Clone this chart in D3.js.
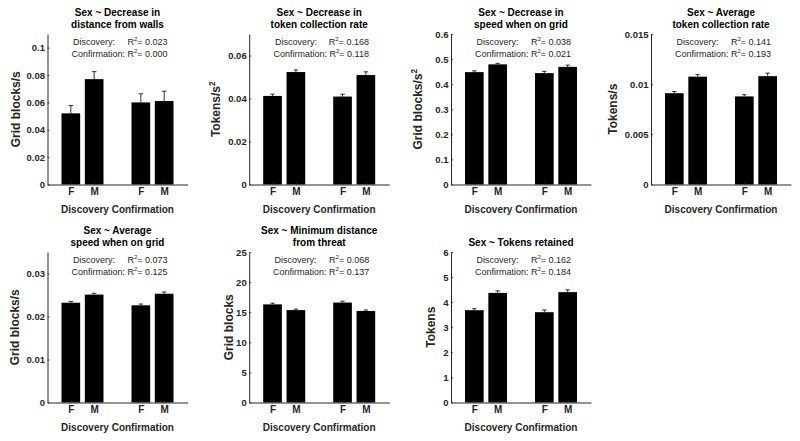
<!DOCTYPE html>
<html><head><meta charset="utf-8">
<script src="https://cdn.jsdelivr.net/npm/d3@7"></script>
<style>
body{margin:0;background:#fff}
svg{display:block}
text{font-family:"Liberation Sans",Arial,Helvetica,sans-serif}
</style>
</head><body>
<svg id="c" width="800" height="441"></svg>
<script>
// ---------- data ----------
const barLabels = ["F", "M", "F", "M"];
const barPositions = [1, 2, 4, 5];
const xLabel = "Discovery Confirmation";
const titles = [
  ["Sex ~ Decrease in", "distance from walls"],
  ["Sex ~ Decrease in", "token collection rate"],
  ["Sex ~ Decrease in", "speed when on grid"],
  ["Sex ~ Average", "token collection rate"],
  ["Sex ~ Average", "speed when on grid"],
  ["Sex ~ Minimum distance", "from threat"],
  ["Sex ~ Tokens retained"]
];
const yLabelText = ["Grid blocks/s", "Tokens/s", "Grid blocks/s", "Tokens/s", "Grid blocks/s", "Grid blocks", "Tokens"];
const yLabelSup = ["", "2", "2", "", "", "", ""];
const yMax = [0.11, 0.07, 0.6, 0.015, 0.035, 25, 6];
const yTicks = [
  [0, 0.02, 0.04, 0.06, 0.08, 0.1],
  [0, 0.02, 0.04, 0.06],
  [0, 0.1, 0.2, 0.3, 0.4, 0.5, 0.6],
  [0, 0.005, 0.01, 0.015],
  [0, 0.01, 0.02, 0.03],
  [0, 5, 10, 15, 20, 25],
  [0, 1, 2, 3, 4, 5, 6]
];
const yTickLabels = [
  ["0", "0.02", "0.04", "0.06", "0.08", "0.1"],
  ["0", "0.02", "0.04", "0.06"],
  ["0", "0.1", "0.2", "0.3", "0.4", "0.5", "0.6"],
  ["0", "0.005", "0.01", "0.015"],
  ["0", "0.01", "0.02", "0.03"],
  ["0", "5", "10", "15", "20", "25"],
  ["0", "1", "2", "3", "4", "5", "6"]
];
// means: [Discovery F, Discovery M, Confirmation F, Confirmation M]
const means = [
  [0.052, 0.077, 0.060, 0.061],
  [0.0412, 0.0523, 0.0409, 0.0509],
  [0.448, 0.479, 0.444, 0.469],
  [0.0091, 0.01075, 0.00878, 0.0108],
  [0.0232, 0.0251, 0.0226, 0.0253],
  [16.3, 15.35, 16.6, 15.2],
  [3.68, 4.37, 3.60, 4.40]
];
const errors = [
  [0.0057, 0.0055, 0.0063, 0.0072],
  [0.0008, 0.0010, 0.0011, 0.0015],
  [0.005, 0.004, 0.007, 0.007],
  [0.00017, 0.0002, 0.00017, 0.0003],
  [0.0003, 0.0003, 0.0003, 0.0004],
  [0.2, 0.17, 0.22, 0.17],
  [0.06, 0.08, 0.09, 0.09]
];
const r2Discovery = ["0.023", "0.168", "0.038", "0.141", "0.073", "0.068", "0.162"];
const r2Confirmation = ["0.000", "0.118", "0.021", "0.193", "0.125", "0.137", "0.184"];

// ---------- layout ----------
const colX = [47.5, 249.2, 451, 651];
const rowBottom = [184.5, 402.5];
const plotW = 140, plotH = 150.5;
const yLabelOffset = [32, 33.5, 33.5, 38, 32.5, 21, 20];
const axisColor = "#262626";

const svg = d3.select("#c");

function supText(sel, pre, sup, post, fs) {
  sel.append("tspan").text(pre);
  if (sup) {
    sel.append("tspan").attr("font-size", fs * 0.68).attr("dy", -fs * 0.4).text(sup);
    if (post) sel.append("tspan").attr("dy", fs * 0.4).text(post);
  } else if (post) {
    sel.append("tspan").text(post);
  }
}

titles.forEach((t, i) => {
  const col = i % 4, row = Math.floor(i / 4);
  const x0 = colX[col], yb = rowBottom[row];
  const x = d3.scaleLinear().domain([0, 6]).range([x0, x0 + plotW]);
  const y = d3.scaleLinear().domain([0, yMax[i]]).range([yb, yb - plotH]);
  const g = svg.append("g");
  const bw = x(0.8) - x(0);

  // bars
  g.selectAll("rect.bar").data(means[i]).enter().append("rect")
    .attr("x", (d, j) => x(barPositions[j]) - bw / 2)
    .attr("width", bw)
    .attr("y", d => y(d))
    .attr("height", d => yb - y(d))
    .attr("fill", "#000");

  // error bars (upper only)
  const eb = g.selectAll("g.eb").data(means[i]).enter().append("g");
  eb.append("line")
    .attr("x1", (d, j) => x(barPositions[j])).attr("x2", (d, j) => x(barPositions[j]))
    .attr("y1", d => y(d)).attr("y2", (d, j) => y(d + errors[i][j]))
    .attr("stroke", "#000").attr("stroke-width", 0.8);
  eb.append("line")
    .attr("x1", (d, j) => x(barPositions[j]) - 2.2).attr("x2", (d, j) => x(barPositions[j]) + 2.2)
    .attr("y1", (d, j) => y(d + errors[i][j])).attr("y2", (d, j) => y(d + errors[i][j]))
    .attr("stroke", "#000").attr("stroke-width", 0.8);

  // y axis
  const ya = g.append("g").attr("transform", `translate(${x0},0)`)
    .call(d3.axisLeft(y).tickValues(yTicks[i])
      .tickFormat((d, k) => yTickLabels[i][k])
      .tickSizeInner(-2).tickSizeOuter(0).tickPadding(2.5));
  // x axis
  const xa = g.append("g").attr("transform", `translate(0,${yb})`)
    .call(d3.axisBottom(x).tickValues(barPositions)
      .tickFormat((d, k) => barLabels[k])
      .tickSizeInner(-2).tickSizeOuter(0).tickPadding(3.5));
  [ya, xa].forEach(a => {
    a.select(".domain").attr("stroke", axisColor).attr("stroke-width", 1);
    a.selectAll(".tick line").attr("stroke", axisColor).attr("stroke-width", 0.8);
    a.selectAll(".tick text").attr("fill", axisColor)
      .attr("font-family", '"Liberation Sans",Arial,Helvetica,sans-serif')
      .attr("font-weight", "bold");
  });
  ya.selectAll(".tick text").attr("font-size", 9.5);
  xa.selectAll(".tick text").attr("font-size", 10);

  // x label
  g.append("text").attr("x", x0 + plotW / 2).attr("y", yb + 28)
    .attr("text-anchor", "middle").attr("font-size", 10).attr("font-weight", "bold")
    .attr("fill", axisColor).text(xLabel);

  // y label
  const ylx = x0 - yLabelOffset[i] + 4.3, yly = yb - plotH / 2;
  const yl = g.append("text").attr("transform", `translate(${ylx},${yly}) rotate(-90)`)
    .attr("text-anchor", "middle").attr("font-size", 12).attr("font-weight", "bold")
    .attr("fill", axisColor);
  supText(yl, yLabelText[i], yLabelSup[i], "", 12);

  // title
  const top = yb - plotH;
  const cx = x0 + plotW / 2;
  t.forEach((line, k) => {
    g.append("text").attr("x", cx).attr("y", top - 6.5 - (t.length - 1 - k) * 11.5)
      .attr("text-anchor", "middle").attr("font-size", 10).attr("font-weight", "bold")
      .attr("fill", "#000").text(line);
  });

  // R^2 annotation
  const fs = 9;
  const l2 = g.append("text").attr("x", x0 + 72).attr("y", top + 22.5)
    .attr("text-anchor", "middle").attr("font-size", fs).attr("fill", axisColor);
  supText(l2, "Confirmation: R", "2", "= " + r2Confirmation[i], fs);
  const bb = l2.node().getBBox();
  g.append("text").attr("x", bb.x + 1.5).attr("y", top + 11)
    .attr("font-size", fs).attr("fill", axisColor).text("Discovery:");
  const l1 = g.append("text").attr("x", bb.x + bb.width).attr("y", top + 11)
    .attr("text-anchor", "end").attr("font-size", fs).attr("fill", axisColor);
  supText(l1, "R", "2", "= " + r2Discovery[i], fs);
});
</script>
</body></html>
